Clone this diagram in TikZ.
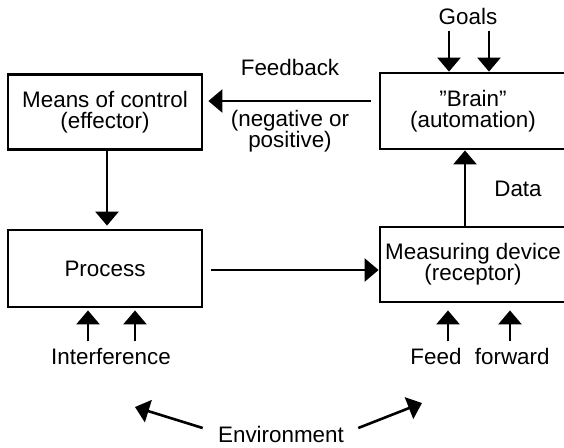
\documentclass[tikz,border=0pt]{standalone}
\usepackage{fontspec}
\setmainfont{Liberation Sans}
\usetikzlibrary{arrows.meta, positioning}
\tikzset{
  arrowK/.style={-{Triangle[length=7pt, width=11.5pt]}, black, line width=1.3pt},
  ctrlBox/.style={rectangle, draw=black, line width=1.4pt, align=center,
                  inner sep=0pt, minimum width=97pt, minimum height=37.5pt},
  sideBox/.style={ctrlBox, minimum width=93pt},
  lbl/.style={align=center, inner sep=3pt},
}

\begin{document}
\begin{tikzpicture}[x=0.5pt, y=-0.5pt, font=\fontsize{11.2}{10.5}\selectfont]
  \useasboundingbox (0,0) rectangle (564,447);
  % boxes
  \node[ctrlBox] (means) at (105,112) {Means of control\\(effector)};
  \node[ctrlBox, minimum height=38.5pt] (process) at (105,268.5) {Process};
  \node[sideBox, minimum height=38pt] (brain) at (473,111) {"Brain”\\(automation)};
  \node[sideBox] (measure) at (473,264.5) {Measuring device\\(receptor)};
  % labels
  \node[lbl] (goals) at (468,16) {Goals};
  \node[lbl] (fb) at (290,67) {Feedback};
  \node[lbl] (sign) at (290,131) {(negative or\\positive)};
  \node[lbl] (data) at (518,189) {Data};
  \node[lbl] (interf) at (111,356) {Interference};
  \node[lbl] (ffwd) at (480,356) {Feed\hspace{0.6em}forward};
  \node[lbl] (env) at (281,434) {Environment};
  \coordinate (envL) at (135,407);
  \coordinate (envR) at (422,403);
  % connectors
  \draw[arrowK, shorten <=4pt, shorten >=2.5pt] ([yshift=5pt]brain.west) -- ([yshift=5pt]brain.west -| means.east);
  \draw[arrowK, shorten >=1.5pt] ([xshift=1pt]means.south) -- ([xshift=1pt]process.north);
  \draw[arrowK, shorten <=4pt] ([yshift=-0.75pt]process.east) -- ([yshift=-0.75pt]process.east -| measure.west);
  \draw[arrowK] ([xshift=-4pt]measure.north) -- ([xshift=-4pt]brain.south);
  \foreach \dx in {-9.5pt,10.5pt}
    \draw[arrowK] ([xshift=\dx]goals.south) -- ([xshift=\dx]goals.south |- brain.north);
  \foreach \dx in {-11.5pt,12pt}
    \draw[arrowK, shorten >=1pt] ([xshift=\dx]interf.north) -- ([xshift=\dx]interf.north |- process.south);
  \foreach \dx in {-16pt,15pt}
    \draw[arrowK, shorten >=3.5pt] ([xshift=\dx]ffwd.north) -- ([xshift=\dx]ffwd.north |- measure.south);
  \draw[arrowK] ([shift={(-4.5pt,3pt)}]env.west) -- (envL);
  \draw[arrowK] ([shift={(4pt,3pt)}]env.east) -- (envR);
\end{tikzpicture}
\end{document}
